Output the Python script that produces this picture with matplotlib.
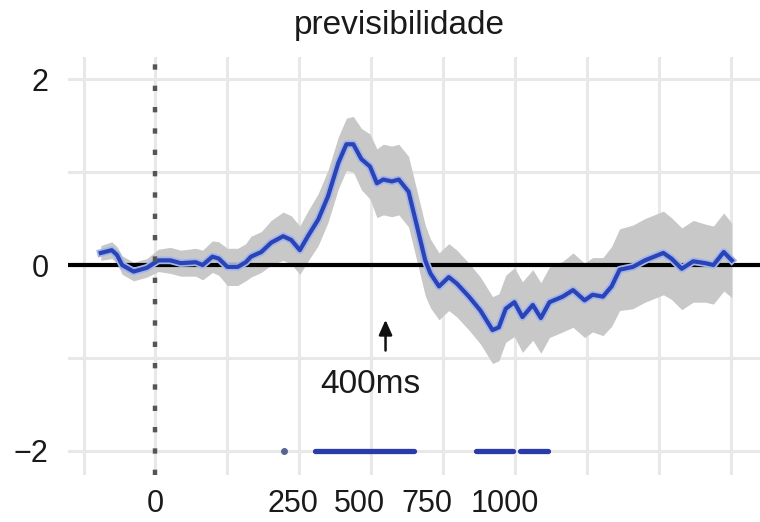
import matplotlib
matplotlib.use("Agg")
import matplotlib.pyplot as plt
import numpy as np

plt.rcParams['font.family'] = ['Liberation Sans', 'DejaVu Sans']

# ---- data (ms, standardized effect) ----
times = [-95, -76, -67, -58, -38, -15, 5, 26, 44, 70, 82, 99, 110, 125, 143,
         157, 166, 184, 201, 222, 236, 251, 265, 283, 300, 318, 332, 344, 358, 373,
         385, 396, 411, 423, 440, 455, 469, 478, 493, 510, 524, 545, 565, 586, 597,
         609, 624, 638, 656, 670, 685, 708, 726, 746, 760, 778, 793, 807, 830, 851,
         883, 897, 915, 935, 956, 970, 988, 1002]
means = [0.13, 0.16, 0.11, 0.00, -0.07, -0.03, 0.05, 0.05, 0.02, 0.03, 0.00, 0.09, 0.07, -0.02, -0.02,
         0.03, 0.09, 0.14, 0.24, 0.31, 0.27, 0.16, 0.31, 0.49, 0.74, 1.10, 1.30, 1.30, 1.14, 1.06,
         0.88, 0.92, 0.90, 0.92, 0.79, 0.41, 0.05, -0.09, -0.23, -0.13, -0.20, -0.34, -0.49, -0.70, -0.67,
         -0.47, -0.40, -0.56, -0.43, -0.57, -0.40, -0.34, -0.27, -0.38, -0.32, -0.34, -0.23, -0.05, -0.02, 0.05,
         0.13, 0.07, -0.04, 0.04, 0.02, 0.00, 0.14, 0.05]
halfwidth = [0.08, 0.09, 0.09, 0.10, 0.10, 0.10, 0.12, 0.14, 0.14, 0.15, 0.16, 0.17, 0.18, 0.20, 0.20,
             0.20, 0.22, 0.22, 0.24, 0.26, 0.26, 0.26, 0.27, 0.28, 0.28, 0.28, 0.28, 0.30, 0.33, 0.35,
             0.37, 0.38, 0.38, 0.38, 0.38, 0.38, 0.38, 0.37, 0.36, 0.36, 0.36, 0.36, 0.36, 0.36, 0.36,
             0.36, 0.37, 0.38, 0.38, 0.38, 0.38, 0.38, 0.40, 0.40, 0.40, 0.42, 0.43, 0.44, 0.45, 0.45,
             0.45, 0.44, 0.44, 0.44, 0.42, 0.42, 0.42, 0.40]

sig_starts = [277, 557, 633]
sig_ends = [449, 621, 683]
sig_dot = [224]
sig_level = -2

xtick_pos = [0, 239, 354, 472, 608]
xtick_labels = ['0', '250', '500', '750', '1000']
ytick_vals = [-2, 0, 2]
ytick_labels = ['\u22122', '0', '2']
grid_x = [-125, 0, 125, 250, 375, 500, 625, 750, 875, 1000]
grid_y = [-2, -1, 0, 1, 2]

title = 'previsibilidade'
annot_text = '400ms'
annot_x = 400

# ---- figure ----
fig = plt.figure(figsize=(7.6, 5.22), dpi=100)
ax = fig.add_axes([0.0895, 0.090, 0.9105, 0.801])

t = np.array(times)
m = np.array(means)
h = np.array(halfwidth)

for gx in grid_x:
    ax.axvline(gx, color='#e8e8e8', lw=2.2, zorder=0)
for gy in grid_y:
    ax.axhline(gy, color='#e8e8e8', lw=2.2, zorder=0)

ax.fill_between(t, m - h, m + h, color='#c8c8c8', lw=0, zorder=1)
ax.axhline(0, color='black', lw=3.0, zorder=2)
ax.plot(t, m, color='#a3b4ea', lw=5.5, solid_joinstyle='round', zorder=3)
ax.plot(t, m, color='#2a44b6', lw=3.0, solid_joinstyle='round', zorder=4)

ax.axvline(0, color='#555555', lw=3.2, linestyle=(0, (1.2, 3.6)), zorder=5)

for s, e in zip(sig_starts, sig_ends):
    ax.plot([s, e], [sig_level, sig_level], color='#2a3aa8', lw=3.8,
            solid_capstyle='round', zorder=4)
ax.plot(sig_dot, [sig_level] * len(sig_dot), 'o', color='#5a6490', ms=4, zorder=4)

ax.annotate('', xy=(annot_x, -0.56), xytext=(annot_x, -0.95),
            arrowprops=dict(arrowstyle='-|>,head_length=0.9,head_width=0.4',
                            color='#111111', lw=1.8), zorder=6)
ax.text(373, -1.29, annot_text, fontsize=24, ha='center', va='center', color='#1a1a1a')

ax.set_xlim(-152, 1051)
ax.set_ylim(-2.26, 2.24)
ax.set_xticks(xtick_pos, xtick_labels)
ax.set_yticks(ytick_vals, ytick_labels)
ax.tick_params(axis='both', length=0, labelsize=22, colors='#1a1a1a')
ax.tick_params(axis='x', pad=10)
ax.tick_params(axis='y', pad=14)
for sp in ax.spines.values():
    sp.set_visible(False)

fig.text(0.526, 0.952, title, fontsize=24, ha='center', va='center', color='#1a1a1a')

fig.savefig('out.png', dpi=100)
